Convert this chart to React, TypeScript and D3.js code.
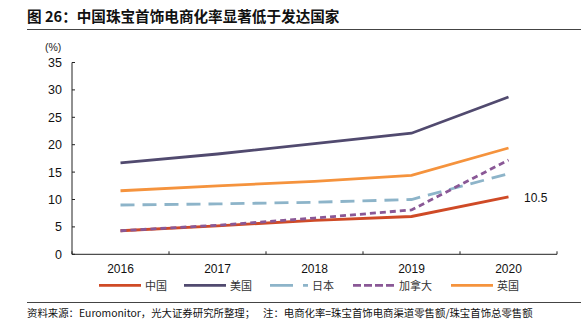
import React from "react";
import * as d3 from "d3";

const years = ["2016", "2017", "2018", "2019", "2020"];
const china = [4.3, 5.2, 6.2, 6.9, 10.5];
const usa = [16.7, 18.3, 20.2, 22.1, 28.7];
const japan = [9.0, 9.2, 9.5, 10.0, 14.7];
const canada = [4.3, 5.3, 6.6, 8.1, 17.2];
const uk = [11.6, 12.5, 13.3, 14.4, 19.4];
const yTicks = [0, 5, 10, 15, 20, 25, 30, 35];

const series = [
  { name: "中国", values: china, color: "#cf4a26", dash: "" },
  { name: "美国", values: usa, color: "#514a6f", dash: "" },
  { name: "日本", values: japan, color: "#8db4c9", dash: "14,8" },
  { name: "加拿大", values: canada, color: "#8a5896", dash: "6,4" },
  { name: "英国", values: uk, color: "#f5933d", dash: "" },
];
const legendDash = ["", "", "23,10,5,100", "8,3", ""];

const font = "'Liberation Sans', Arial, sans-serif";
const cjk = "'Noto Sans CJK SC', sans-serif";

export default function App() {
  const x = d3.scaleBand().domain(years).range([72, 557]);
  const y = d3.scaleLinear().domain([0, 35]).range([254.3, 62.5]);
  const line = d3
    .line<number>()
    .x((_, i) => (x(years[i]) as number) + x.bandwidth() / 2)
    .y((d) => y(d));
  const legendX = [99, 184, 270, 353, 451];
  const legendLen = [42, 42, 38, 42, 42];

  return (
    <svg width={581} height={330} style={{ position: "absolute", left: 0, top: 0, background: "#fff" }}>
      <text x={27} y={22} fontFamily={cjk} fontWeight="bold" fontSize={14.6} fill="#111">
        图 26：中国珠宝首饰电商化率显著低于发达国家
      </text>
      <line x1={27} x2={581} y1={29.5} y2={29.5} stroke="#444" strokeWidth={1} />
      <text x={45} y={51} fontFamily={font} fontSize={10.5} fill="#222">(%)</text>

      {/* y axis */}
      <line x1={72} x2={72} y1={y(35)} y2={y(0)} stroke="#222" strokeWidth={1} />
      {yTicks.map((t) => (
        <g key={t}>
          <line x1={72} x2={75} y1={y(t)} y2={y(t)} stroke="#222" strokeWidth={1} />
          <text x={62} y={y(t) + 4.5} textAnchor="end" fontFamily={font} fontSize={12.5} fill="#111">
            {t}
          </text>
        </g>
      ))}
      {/* x axis */}
      <line x1={72} x2={557} y1={y(0)} y2={y(0)} stroke="#222" strokeWidth={1} />
      {[...years.map((yr) => x(yr) as number), 557].map((px, i) => (
        <line key={i} x1={px} x2={px} y1={y(0)} y2={y(0) - 3} stroke="#222" strokeWidth={1} />
      ))}
      {years.map((yr) => (
        <text key={yr} x={(x(yr) as number) + x.bandwidth() / 2} y={273} textAnchor="middle" fontFamily={font} fontSize={12} fill="#111">
          {yr}
        </text>
      ))}

      {series.map((s) => (
        <path key={s.name} d={line(s.values) || ""} fill="none" stroke={s.color} strokeWidth={2.8} strokeDasharray={s.dash || undefined} />
      ))}
      <text x={524} y={202} fontFamily={font} fontSize={12} fill="#111">{china[4]}</text>

      {series.map((s, i) => (
        <g key={s.name}>
          <line x1={legendX[i]} x2={legendX[i] + legendLen[i]} y1={285.3} y2={285.3} stroke={s.color} strokeWidth={2.8} strokeDasharray={legendDash[i] || undefined} />
          <text x={legendX[i] + legendLen[i] + 4} y={289.5} fontFamily={cjk} fontSize={11} fill="#333">{s.name}</text>
        </g>
      ))}

      <line x1={27} x2={581} y1={302.5} y2={302.5} stroke="#444" strokeWidth={1} />
      <text x={27} y={317} fontFamily={cjk} fontSize={10.4} fill="#111">
        资料来源：Euromonitor，光大证券研究所整理；
      </text>
      <text x={263} y={317} fontFamily={cjk} fontSize={10.4} fill="#111">
        注：电商化率=珠宝首饰电商渠道零售额/珠宝首饰总零售额
      </text>
    </svg>
  );
}
